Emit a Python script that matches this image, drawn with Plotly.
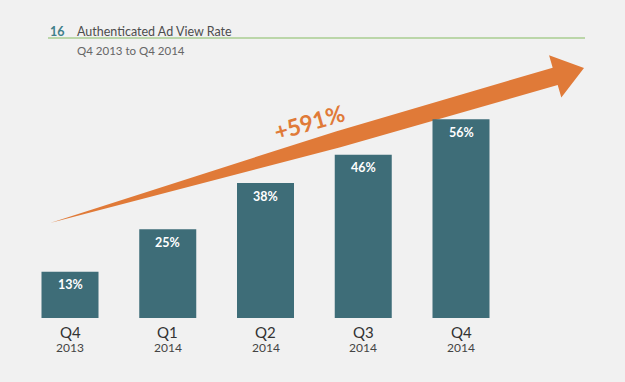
import math
import plotly.graph_objects as go

# ---- data ----
quarters = ["Q4", "Q1", "Q2", "Q3", "Q4"]
years = ["2013", "2014", "2014", "2014", "2014"]
rates = [13, 25, 38, 46, 56]
rate_labels = ["13%", "25%", "38%", "46%", "56%"]
growth_label = "+591%"
title_num = "16"
title_text = "Authenticated Ad View Rate"
subtitle_text = "Q4 2013 to Q4 2014"

W, H = 625, 382
BAR = "#3e6d78"
ORANGE = "#e07a38"
BG = "#f1f1f1"

# axis calibration (pixels)
x0_px, step_px = 70, 97.75
zero_px, px_per_pct = 318, 3.55
xr = [-x0_px / step_px, (W - x0_px) / step_px]
yr = [-(H - zero_px) / px_per_pct, zero_px / px_per_pct]

xs = list(range(len(rates)))

fig = go.Figure(go.Bar(
    x=xs, y=rates, width=57 / step_px,
    marker=dict(color=BAR, line=dict(width=0)),
    hoverinfo="skip",
))

ann = []
for x, v, lab, q, yr_ in zip(xs, rates, rate_labels, quarters, years):
    ann.append(dict(x=x, y=v, xref="x", yref="y", text=f"<b>{lab}</b>", showarrow=False,
                    yshift=-13, xanchor="center", yanchor="middle",
                    font=dict(family="Lato", size=12.5, color="white")))
    ann.append(dict(x=x, y=0, xref="x", yref="y", text=q, showarrow=False,
                    yshift=-14, xanchor="center", yanchor="middle",
                    font=dict(family="Lato", size=15, color="#333")))
    ann.append(dict(x=x, y=0, xref="x", yref="y", text=yr_, showarrow=False,
                    yshift=-29, xanchor="center", yanchor="middle",
                    font=dict(family="Lato", size=12, color="#444")))

def P(px, py):
    return px / W, 1 - py / H

# title
for txt, px, py, sz, col in [
    (f"<b>{title_num}</b>", 48, 31, 12.5, "#3f7f8a"),
    (title_text, 75, 31, 12.5, "#4d4d4d"),
    (subtitle_text, 75, 51, 11.5, "#666"),
]:
    x, y = P(px, py)
    ann.append(dict(x=x, y=y, xref="paper", yref="paper", text=txt, showarrow=False,
                    xanchor="left", yanchor="middle", font=dict(family="Lato", size=sz, color=col)))

x, y = P(309, 122)
ann.append(dict(x=x, y=y, xref="paper", yref="paper", text=f"<b>{growth_label}</b>", showarrow=False,
                xanchor="center", yanchor="middle", textangle=-16,
                font=dict(family="Lato", size=23, color=ORANGE)))

# arrow shape
tail = (50, 223)
tip = (584, 68)
dx, dy = tip[0] - tail[0], tip[1] - tail[1]
L = math.hypot(dx, dy)
u = (dx / L, dy / L)
n = (-u[1], u[0])
head_len, head_hw, shaft_hw = 30, 22, 9
def pt(along, off):
    return (tail[0] + u[0] * along + n[0] * off, tail[1] + u[1] * along + n[1] * off)
base = L - head_len
pts = [pt(0, 0), pt(300, -8.3), pt(base, -shaft_hw), pt(base, -head_hw), pt(L, 0),
       pt(base, head_hw), pt(base, shaft_hw), pt(300, 8.3)]
path = "M " + " L ".join("%.5f,%.5f" % P(*p) for p in pts) + " Z"

shapes = [
    dict(type="path", path=path, xref="paper", yref="paper", fillcolor=ORANGE,
         line=dict(width=0), layer="below"),
    dict(type="line", xref="paper", yref="paper", x0=48 / W, x1=585 / W,
         y0=1 - 38 / H, y1=1 - 38 / H, line=dict(color="#a8cc90", width=1.5), layer="below"),
]

fig.update_layout(
    width=W, height=H, margin=dict(l=0, r=0, t=0, b=0),
    paper_bgcolor=BG, plot_bgcolor="rgba(0,0,0,0)", showlegend=False,
    xaxis=dict(range=xr, visible=False, fixedrange=True),
    yaxis=dict(range=yr, visible=False, fixedrange=True),
    annotations=ann, shapes=shapes,
)
fig.write_html("out.html", config={"displayModeBar": False})

with open("out.html", "r", encoding="utf-8") as f:
    html = f.read()
html = html.replace("<head>", "<head><style>html,body{margin:0;padding:0;background:%s;}</style>" % BG, 1)
with open("out.html", "w", encoding="utf-8") as f:
    f.write(html)
